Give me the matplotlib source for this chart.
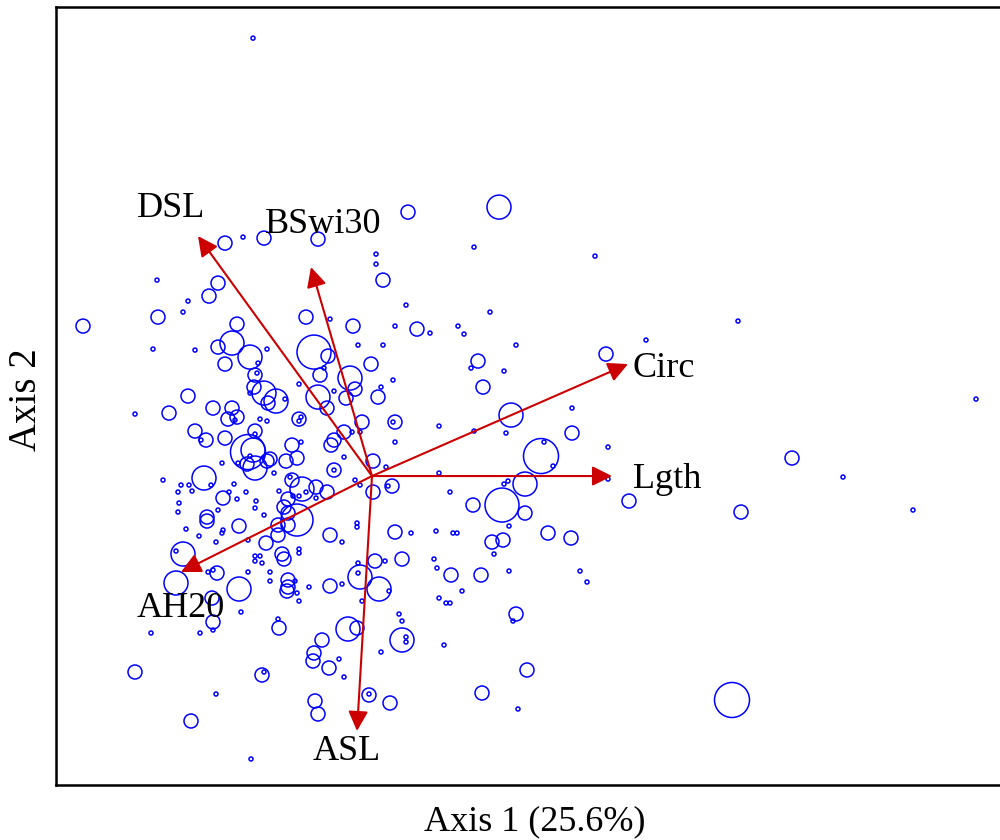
import matplotlib.pyplot as plt
import numpy as np

plt.rcParams['font.family'] = ['Liberation Serif', 'DejaVu Serif']

# site scores (axis 1, axis 2) and abundance weight of each site
axis1 = [
    -1.19, -1.47, -1.29, -1.08, -0.54, 0.04, 0.04, 0.36, 1.27, 1.02, 2.23, 3.66, 6.04, 4.20, 4.71, 3.69, 5.41, 3.60,
    0.11, 0.34, 0.23, 0.45, 0.58, 0.86, 0.92, 1.18, 0.11, 1.44, 1.06, 0.99, 1.32, -0.01, 2.34, 2.74, 0.21, 0.09,
    1.11, 0.06, 1.39, 2.00, 0.23, 0.21, 0.67, 1.02, 1.34, 2.00, 0.23, 1.69, 1.72, 1.81, 2.36, 0.01, 0.14, 0.67,
    0.20, 0.16, 1.53, 1.36, 1.32, 2.36, 0.78, 1.30, 1.53, 1.01, 2.57, 0.01, 1.37, 0.23, 1.76, 0.64,
    0.39, 0.81, 0.85, 1.20, 1.31, 1.99, 1.22, 0.03, 0.13, 0.30, 0.62, 0.65, 0.79, 1.09, 1.37, 2.08, 2.15, 0.07,
    0.17, 0.90, 0.67, 0.74, 0.78, 1.44, 1.41, 0.27, 0.30, 0.30, 0.34, 0.34, 0.09, 0.72, 1.55, 1.10, 1.46, -0.03, 0.18,
    -1.86, -1.73, -1.65, -1.65, -1.50, -1.49, -1.56, -1.33, -1.24, -1.06, -0.94, -0.84, -0.75, -0.42, -0.30, -0.15,
    -0.15, -1.89, -1.96, -0.90, -0.88, -1.17, -1.12, -1.17, -1.10, -0.73, -0.73, -0.14, -0.12, -0.14, -1.96, -1.64,
    -1.59, -1.55, -1.24, -1.33, -1.02, -1.02, -0.84, -0.84, -0.85, -0.77, -0.75, -0.73, -0.63, -0.42, -0.30, -0.10,
    -1.60, -1.59, -1.59, -2.21, -1.72, -1.31, -0.93, -0.94, -0.24, -0.15, -0.50, -0.58, -0.59, -0.43, -0.33, -0.28,
    -2.37, -1.10, -1.08, -1.56, -0.03, -0.57, -0.54, -1.81, -1.21,
    -2.15, -1.54, -1.63, -1.84, -1.89, -2.89, -2.14, -1.35, -1.40, -1.54, -2.19, -1.77, -1.05, -1.22, -1.47, -1.14,
    -1.17, -1.15, -0.66, -0.42, -0.19, -0.58, -0.44, -0.52, -0.48, -0.14, -0.22, -0.17, -0.26, -0.73, -0.54, -0.38,
    -0.45, -1.18, -1.22, -1.08, -1.04, -0.96, -0.87, -1.84, -2.03, -2.37, -1.59, -1.40, -1.35, -1.44, -1.37, -1.77,
    -1.66, -1.71, -1.47, -1.17, -1.17, -1.24, -1.19, -1.12, -1.05, -0.73, -0.71, -0.73, -0.80, -0.71, -0.75, -0.86,
    -1.02, -1.05, -1.17, -1.25, -1.34, -1.22, -1.50, -0.98, -0.38, -0.38, -0.28, -0.41, -0.38, -0.28, -0.20, -0.12,
    -0.10, -1.68, -1.61, -2.09, -1.91, -1.83, -1.80, -1.94, -1.93, -1.94, -1.49, -1.43, -1.38, -1.26, -1.35, -1.16,
    -1.17, -1.08, -1.54, -0.80, -0.82, -0.70, -0.56, -0.45, -0.66, -0.73, -0.79, -0.93, -0.56, -0.84, -0.88, -0.17,
    -0.12, -0.84, -0.94,
]
axis2 = [
    4.38, 2.33, 2.39, 2.38, 2.37, 2.22, 2.12, 2.64, 2.69, 2.29, 2.20, 1.55, 0.77, 0.18, -0.01, -0.36, -0.34, -2.24,
    1.96, 1.71, 1.50, 1.47, 1.43, 1.50, 1.42, 1.64, 1.31, 1.31, 1.15, 1.08, 1.05, 1.12, 1.22, 1.36, 0.96, 0.89,
    0.89, 0.79, 0.61, 0.68, 0.54, 0.54, 0.50, 0.45, 0.43, 0.43, 0.34, 0.20, 0.34, 0.10, 0.29, 0.15, 0.09, 0.03,
    -0.10, -0.10, -0.08, -0.05, -0.08, -0.03, -0.16, -0.29, -0.37, -0.29, -0.25, -0.16, -0.50, -0.56, -0.57, -0.55,
    -0.57, -0.57, -0.57, -0.66, -0.64, -0.62, -0.78, -0.85, -0.85, -0.83, -0.83, -0.92, -0.99, -0.99, -0.95, -0.95,
    -1.06, -1.13, -1.15, -1.15, -1.22, -1.27, -1.27, -1.38, -1.45, -1.38, -1.45, -1.64, -1.61, -1.66, -1.76, -1.69,
    -1.94, -2.17, -2.33, -2.19, -2.27,
    -0.53, -0.60, -0.41, -0.45, -0.57, -0.54, -0.66, -0.50, -0.64, -0.67, -0.59, -0.49, -0.44, -0.59, -0.66, -0.47,
    -0.51, -0.78, -0.75, -0.78, -0.83, -0.80, -0.80, -0.85, -0.87, -0.73, -0.77, -0.87, -1.01, -0.97, -1.07, -0.96,
    -0.94, -0.97, -0.96, -1.13, -0.96, -1.05, -1.04, -1.11, -1.15, -1.05, -1.17, -1.25, -1.11, -1.10, -1.08, -1.25,
    -1.22, -1.46, -1.54, -1.57, -1.57, -1.36, -1.52, -1.43, -1.53, -1.52, -1.64, -1.77, -1.85, -1.92, -1.83, -2.01,
    -1.96, -1.99, -1.96, -2.18, -2.18, -2.25, -2.38, -2.45, -2.83,
    1.96, 1.93, 1.80, 1.75, 1.64, 1.50, 1.59, 1.52, 1.33, 1.29, 1.27, 1.26, 1.27, 1.19, 1.12, 1.13,
    1.01, 1.03, 1.59, 1.57, 1.50, 1.24, 1.20, 1.01, 1.08, 1.31, 0.98, 0.87, 0.78, 0.92, 0.79, 0.85,
    0.68, 0.89, 0.83, 0.83, 0.73, 0.75, 0.77, 0.80, 0.63, 0.62, 0.68, 0.68, 0.59, 0.57, 0.56, 0.45,
    0.36, 0.36, 0.38, 0.45, 0.42, 0.24, 0.26, 0.57, 0.55, 0.57, 0.59, 0.55, 0.31, 0.34, 0.18, 0.15,
    0.17, 0.15, 0.08, 0.12, 0.13, 0.20, 0.13, 0.03, 0.06, 0.06, 0.19, 0.31, 0.36, 0.44, 0.44, 0.44,
    0.54, -0.02, -0.09, -0.04, -0.09, -0.09, -0.15, -0.16, -0.27, -0.36, -0.22, -0.16, -0.08, -0.16, -0.23, -0.25,
    -0.32, -0.39, -0.34, -0.04, -0.01, -0.13, -0.11, -0.16, -0.16, -0.20, -0.20, -0.15, -0.22, -0.23, -0.31, -0.04,
    -0.09, -0.37, -0.49,
]
abundance = [
    0.2, 0.7, 0.2, 0.7, 0.7, 0.2, 0.2, 0.7, 1.2, 0.2, 0.2, 0.2, 0.2, 0.7, 0.2, 0.7, 0.2, 1.75,
    0.7, 0.2, 0.2, 0.7, 0.2, 0.2, 0.2, 0.2, 0.2, 0.2, 0.7, 0.2, 0.2, 0.7, 0.7, 0.2, 0.2, 0.2,
    0.7, 0.7, 1.2, 0.2, 0.7, 0.2, 0.2, 0.2, 0.2, 0.7, 0.2, 1.75, 0.2, 0.2, 0.2, 0.7, 0.2, 0.2,
    0.7, 0.2, 1.2, 0.2, 0.2, 0.2, 0.2, 1.7, 0.7, 0.7, 0.7, 0.7, 0.2, 0.7, 0.7, 0.2,
    0.2, 0.2, 0.2, 0.7, 0.7, 0.7, 0.2, 0.7, 0.2, 0.7, 0.2, 0.2, 0.7, 0.7, 0.2, 0.2, 0.2, 1.2,
    0.2, 0.2, 0.2, 0.2, 0.2, 0.7, 0.2, 0.2, 0.2, 1.2, 0.2, 0.2, 0.2, 0.2, 0.7, 0.7, 0.2, 0.7, 0.7,
    0.2, 0.2, 0.7, 0.7, 0.2, 0.2, 0.2, 0.7, 0.2, 0.7, 0.7, 0.7, 1.6, 0.7, 0.2, 0.2,
    0.2, 1.2, 0.2, 0.7, 0.7, 0.2, 0.2, 0.2, 0.2, 0.2, 0.2, 0.2, 1.2, 0.2, 1.2, 0.2,
    0.2, 0.7, 0.2, 1.2, 0.2, 0.2, 0.7, 0.7, 0.7, 0.2, 0.2, 0.2, 0.2, 0.7, 0.2, 0.2,
    0.7, 0.7, 0.2, 0.2, 0.2, 0.2, 0.7, 0.2, 1.2, 0.7, 0.7, 0.7, 0.7, 0.7, 0.2, 0.2,
    0.7, 0.7, 0.2, 0.2, 0.2, 0.7, 0.7, 0.7, 0.2,
    0.2, 0.7, 0.7, 0.2, 0.2, 0.7, 0.7, 0.7, 1.2, 0.7, 0.2, 0.2, 0.2, 1.2, 0.7, 0.2,
    0.7, 0.2, 0.7, 0.2, 0.7, 1.7, 0.7, 0.7, 0.2, 0.2, 1.2, 0.7, 0.7, 0.2, 1.2, 0.2,
    0.7, 0.7, 0.2, 1.2, 0.7, 1.2, 0.2, 0.7, 0.7, 0.2, 0.7, 0.7, 0.7, 0.7, 0.2, 0.7,
    0.7, 0.2, 0.7, 0.7, 0.2, 1.75, 1.2, 0.2, 0.2, 0.7, 0.2, 0.2, 0.7, 0.2, 0.7, 0.7,
    0.7, 0.7, 1.2, 0.7, 0.2, 0.2, 0.2, 0.2, 0.7, 0.2, 0.2, 0.7, 0.7, 0.7, 0.2, 0.2,
    0.7, 1.2, 0.2, 0.2, 0.2, 0.2, 0.2, 0.2, 0.2, 0.2, 0.7, 0.2, 0.2, 0.2, 0.2, 0.2,
    0.2, 0.2, 0.2, 0.7, 0.2, 1.2, 0.7, 0.7, 0.2, 0.2, 0.2, 0.2, 0.2, 0.7, 0.7, 0.2,
    0.2, 0.7, 0.7,
]

# environmental variables (biplot arrows)
env_names = ['DSL', 'BSwi30', 'Circ', 'Lgth', 'AH20', 'ASL']
env_ax1 = [-1.74, -0.61, 2.56, 2.40, -1.91, -0.15]
env_ax2 = [2.40, 2.09, 1.12, 0.00, -0.96, -2.55]
# label anchor (left, baseline)
lab_x = [-2.35, -1.07, 2.61, 2.61, -2.35, -0.59]
lab_y = [2.59, 2.43, 0.99, -0.12, -1.41, -2.84]

fig = plt.figure(figsize=(10, 8.4), dpi=100)
ax = fig.add_axes([0.056, 0.0655, 0.944, 0.926])

# marker radius in pixels scales with abundance
r_px = np.array(abundance) * 10
sizes = (2 * r_px * 72 / fig.dpi) ** 2
ax.scatter(axis1, axis2, s=sizes, facecolors='none', edgecolors='#0000FF', linewidths=1.1, zorder=2)

for name, x, y, lx, ly in zip(env_names, env_ax1, env_ax2, lab_x, lab_y):
    ax.annotate('', xy=(x, y), xytext=(0, 0),
                arrowprops=dict(arrowstyle='-|>,head_length=0.6,head_width=0.3', color='#CC0000',
                                lw=1.5, shrinkA=0, shrinkB=0, mutation_scale=20), zorder=3)
    ax.text(lx, ly, name, fontsize=26, ha='left', va='baseline', zorder=4)

ax.set_xlim(-3.16, 6.28)
ax.set_ylim(-3.09, 4.69)
ax.set_xticks([])
ax.set_yticks([])
for side in ['left', 'top', 'bottom']:
    ax.spines[side].set_linewidth(1.8)
ax.spines['right'].set_visible(False)

fig.text(0.535, 0.0119, 'Axis 1 (25.6%)', fontsize=26, ha='center', va='baseline')
fig.text(0.027, 0.524, 'Axis 2', fontsize=28, ha='center', va='center', rotation=90)

fig.savefig('out.png', dpi=100)
